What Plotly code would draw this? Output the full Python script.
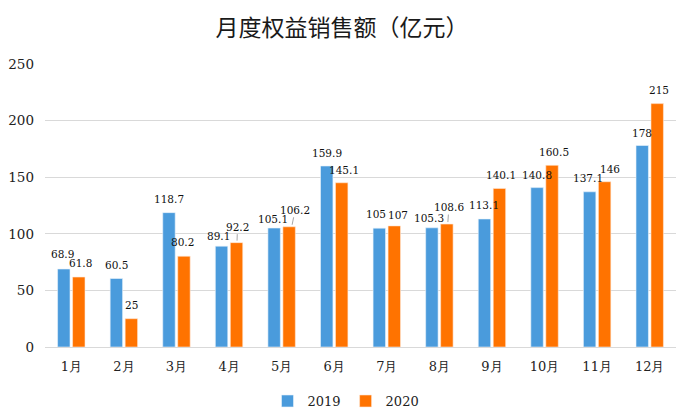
import plotly.graph_objects as go

months = ["1月", "2月", "3月", "4月", "5月", "6月", "7月", "8月", "9月", "10月", "11月", "12月"]
sales_2019 = [68.9, 60.5, 118.7, 89.1, 105.1, 159.9, 105, 105.3, 113.1, 140.8, 137.1, 178]
sales_2020 = [61.8, 25, 80.2, 92.2, 106.2, 145.1, 107, 108.6, 140.1, 160.5, 146, 215]
y_ticks = [0, 50, 100, 150, 200, 250]

# label placement tweaks (pixels): horizontal nudge, height of label centre above bar top
lab19_dx = [-1, 0, 0, -3, -1, 0, -3, -3, 0, 0, -2, 0]
lab19_dy = [15, 14, 14, 10, 9, 13, 14, 10, 13.5, 13, 14, 13]
lab20_dx = [2, 0, -1, 1, 6, 2, 4, 2, 2, 2, 5, 2]
lab20_dy = [14, 14, 14, 16, 17, 13, 11, 17, 13, 13.5, 13, 14]
lab20_leader = [False, False, False, True, True, False, False, True, False, False, False, False]

serif = "DejaVu Serif"
BLUE = "#4A9BDC"
ORANGE = "#FF7300"
BAR_OFF = 7.5
LABEL_SIZE = 10.5

fig = go.Figure()
fig.add_trace(go.Bar(name="2019", x=months, y=sales_2019,
                     marker=dict(color=BLUE, line=dict(color="#EAF3FB", width=0.6))))
fig.add_trace(go.Bar(name="2020", x=months, y=sales_2020,
                     marker=dict(color=ORANGE, line=dict(color="#FFE9D9", width=0.6))))

annotations = []
for m, v, dx, dy in zip(months, sales_2019, lab19_dx, lab19_dy):
    annotations.append(dict(x=m, y=v, xref="x", yref="y", text=f"{v:g}", showarrow=False,
                            xshift=-BAR_OFF + dx, yshift=dy, yanchor="middle", xanchor="center",
                            font=dict(family=serif, size=LABEL_SIZE, color="#111")))
for m, v, dx, dy, ld in zip(months, sales_2020, lab20_dx, lab20_dy, lab20_leader):
    if ld:
        annotations.append(dict(x=m, y=v, xref="x", yref="y", text=f"{v:g}", showarrow=True,
                                arrowhead=0, arrowwidth=1, arrowcolor="#A6A6A6", standoff=0,
                                xshift=BAR_OFF + dx / 2, yshift=2, ax=dx / 2, ay=-(dy - 2),
                                font=dict(family=serif, size=LABEL_SIZE, color="#111")))
    else:
        annotations.append(dict(x=m, y=v, xref="x", yref="y", text=f"{v:g}", showarrow=False,
                                xshift=BAR_OFF + dx, yshift=dy, yanchor="middle", xanchor="center",
                                font=dict(family=serif, size=LABEL_SIZE, color="#111")))

fig.update_layout(
    width=676, height=412,
    margin=dict(l=37, r=8, t=56, b=73, autoexpand=False),
    paper_bgcolor="white", plot_bgcolor="white",
    barmode="group", bargap=0.43, bargroupgap=0.17,
    title=dict(text="月度权益销售额（亿元）", xref="container", x=0.494, xanchor="center",
               yref="container", y=0.951, yanchor="middle", automargin=False,
               font=dict(family="Noto Sans CJK SC", size=23, color="#1a1a1a")),
    font=dict(family=serif, size=13, color="#222"),
    xaxis=dict(showgrid=False, showline=True, linecolor="#D9D9D9", linewidth=1,
               ticks="", ticklabelstandoff=7, tickfont=dict(family=serif, size=13, color="#222")),
    yaxis=dict(range=[0, 250], tickvals=y_ticks, showgrid=True, gridcolor="#D9D9D9",
               gridwidth=1, zeroline=False, ticks="", ticklabelstandoff=10,
               tickfont=dict(family=serif, size=13.5, color="#222")),
    legend=dict(orientation="h", xref="container", x=0.5, xanchor="center",
                yref="container", y=0.046, yanchor="middle",
                font=dict(family=serif, size=13, color="#222"), itemwidth=30,
                traceorder="normal"),
    annotations=annotations,
    showlegend=True,
)

fig.write_html("out.html")
